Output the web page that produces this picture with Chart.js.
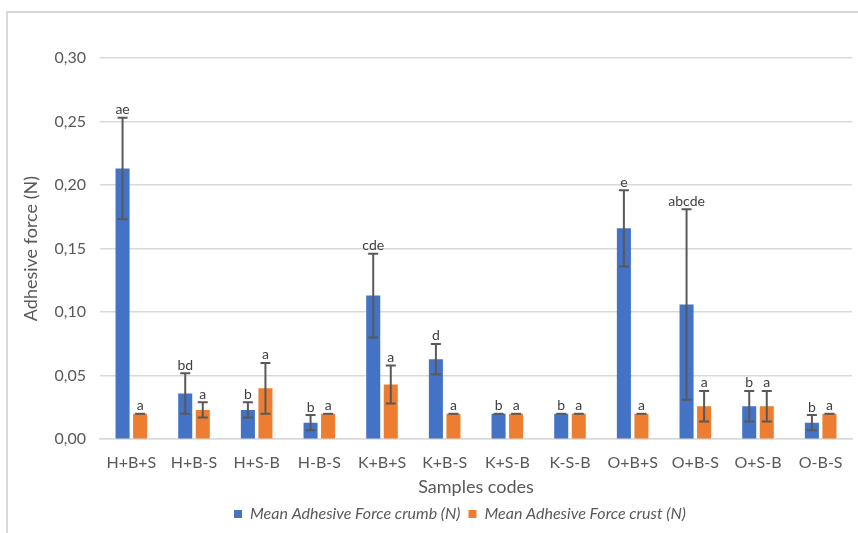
<!DOCTYPE html>
<html>
<head>
<meta charset="utf-8">
<script src="https://cdn.jsdelivr.net/npm/chart.js@4.4.0/dist/chart.umd.min.js"></script>
<style>
  html, body { margin: 0; padding: 0; background: #fff; }
  #wrap { width: 858px; height: 533px; position: relative; }
</style>
</head>
<body>
<div id="wrap"><canvas id="adhesiveChart"></canvas></div>
<script>
// Sample codes on the x axis
const categories = ["H+B+S", "H+B-S", "H+S-B", "H-B-S", "K+B+S", "K+B-S", "K+S-B", "K-S-B", "O+B+S", "O+B-S", "O+S-B", "O-B-S"];

// Mean adhesive force (N) and standard deviations
const crumbMean = [0.213, 0.036, 0.023, 0.013, 0.113, 0.063, 0.020, 0.020, 0.166, 0.106, 0.026, 0.013];
const crumbSd = [0.040, 0.016, 0.006, 0.006, 0.033, 0.012, 0, 0, 0.030, 0.075, 0.012, 0.006];
const crustMean = [0.020, 0.023, 0.040, 0.020, 0.043, 0.020, 0.020, 0.020, 0.020, 0.026, 0.026, 0.020];
const crustSd = [0, 0.006, 0.020, 0, 0.015, 0, 0, 0, 0, 0.012, 0.012, 0];

// Significance letters above each bar
const crumbLetters = ["ae", "bd", "b", "b", "cde", "d", "b", "b", "e", "abcde", "b", "b"];
const crustLetters = ["a", "a", "a", "a", "a", "a", "a", "a", "a", "a", "a", "a"];

const yTicks = [0, 0.05, 0.10, 0.15, 0.20, 0.25, 0.30];

const FONT = "Lato, 'Open Sans', sans-serif";
const TEXT = "#595959";

// White background and the light frame round the chart
const framePlugin = {
  id: "frame",
  beforeDraw(chart) {
    const ctx = chart.ctx;
    ctx.save();
    ctx.fillStyle = "#fff";
    ctx.fillRect(0, 0, chart.width, chart.height);
    ctx.strokeStyle = "#d9d9d9";
    ctx.lineWidth = 2;
    ctx.beginPath();
    ctx.moveTo(7, chart.height);
    ctx.lineTo(7, 12);
    ctx.lineTo(chart.width, 12);
    ctx.stroke();
    ctx.restore();
  },
  // legend in the original sits a bit right of the canvas centre
  afterLayout(chart) {
    chart.legend.left += 24;
    chart.legend.right += 24;
  }
};

// Error bars (mean +/- SD) and letters on top of them
const errorBarPlugin = {
  id: "errorBars",
  afterDatasetsDraw(chart) {
    const ctx = chart.ctx;
    const yScale = chart.scales.y;
    ctx.save();
    chart.data.datasets.forEach((ds, i) => {
      const meta = chart.getDatasetMeta(i);
      meta.data.forEach((bar, j) => {
        const v = ds.data[j];
        const sd = ds.sd[j];
        const yTop = yScale.getPixelForValue(v + sd);
        const yBot = yScale.getPixelForValue(v - sd);
        ctx.strokeStyle = "#595959";
        ctx.lineWidth = 2;
        ctx.beginPath();
        ctx.moveTo(bar.x, yTop);
        ctx.lineTo(bar.x, yBot);
        ctx.moveTo(bar.x - 5, yTop);
        ctx.lineTo(bar.x + 5, yTop);
        if (sd > 0) {
          ctx.moveTo(bar.x - 5, yBot);
          ctx.lineTo(bar.x + 5, yBot);
        }
        ctx.stroke();

        ctx.fillStyle = "#404040";
        ctx.font = "14px " + FONT;
        ctx.textAlign = "center";
        ctx.textBaseline = "bottom";
        ctx.fillText(ds.letters[j], bar.x, yTop - 1);
      });
    });
    ctx.restore();
  }
};

const ctx = document.getElementById("adhesiveChart").getContext("2d");

const adhesiveChart = new Chart(ctx, {
  type: "bar",
  data: {
    labels: categories,
    datasets: [
      {
        label: "Mean Adhesive Force crumb (N)",
        data: crumbMean,
        sd: crumbSd,
        letters: crumbLetters,
        backgroundColor: "#4472C4"
      },
      {
        label: "Mean Adhesive Force crust (N)",
        data: crustMean,
        sd: crustSd,
        letters: crustLetters,
        backgroundColor: "#ED7D31"
      }
    ]
  },
  options: {
    responsive: true,
    maintainAspectRatio: false,
    animation: false,
    categoryPercentage: 0.56,
    barPercentage: 0.8,
    layout: {
      padding: { left: 20, right: 6, top: 58, bottom: 1 }
    },
    plugins: {
      tooltip: { enabled: false },
      legend: {
        position: "bottom",
        labels: {
          boxWidth: 8,
          boxHeight: 8,
          padding: 8,
          color: TEXT,
          font: { family: FONT, size: 16, style: "italic" }
        }
      }
    },
    scales: {
      x: {
        afterFit: scale => { scale.height = scale.height - 10; },
        grid: { display: false, drawTicks: false },
        border: { color: "#d9d9d9", width: 1.5 },
        ticks: {
          color: TEXT,
          padding: 14,
          maxRotation: 0,
          font: { family: FONT, size: 16 }
        },
        title: {
          display: true,
          text: "Samples codes",
          color: TEXT,
          padding: { top: 0, bottom: 0 },
          font: { family: FONT, size: 18 }
        }
      },
      y: {
        min: 0,
        max: 0.30,
        afterFit: scale => { scale.width = 80; },
        afterBuildTicks: scale => { scale.ticks = yTicks.map(v => ({ value: v })); },
        grid: { color: "#d9d9d9", lineWidth: 1.5, drawTicks: false },
        border: { display: false },
        ticks: {
          color: TEXT,
          padding: 14,
          font: { family: FONT, size: 16 },
          callback: value => value.toFixed(2).replace(".", ",")
        },
        title: {
          display: true,
          text: "Adhesive force (N)",
          color: TEXT,
          padding: { top: 0, bottom: 0 },
          font: { family: FONT, size: 18 }
        }
      }
    }
  },
  plugins: [framePlugin, errorBarPlugin]
});
</script>
</body>
</html>
